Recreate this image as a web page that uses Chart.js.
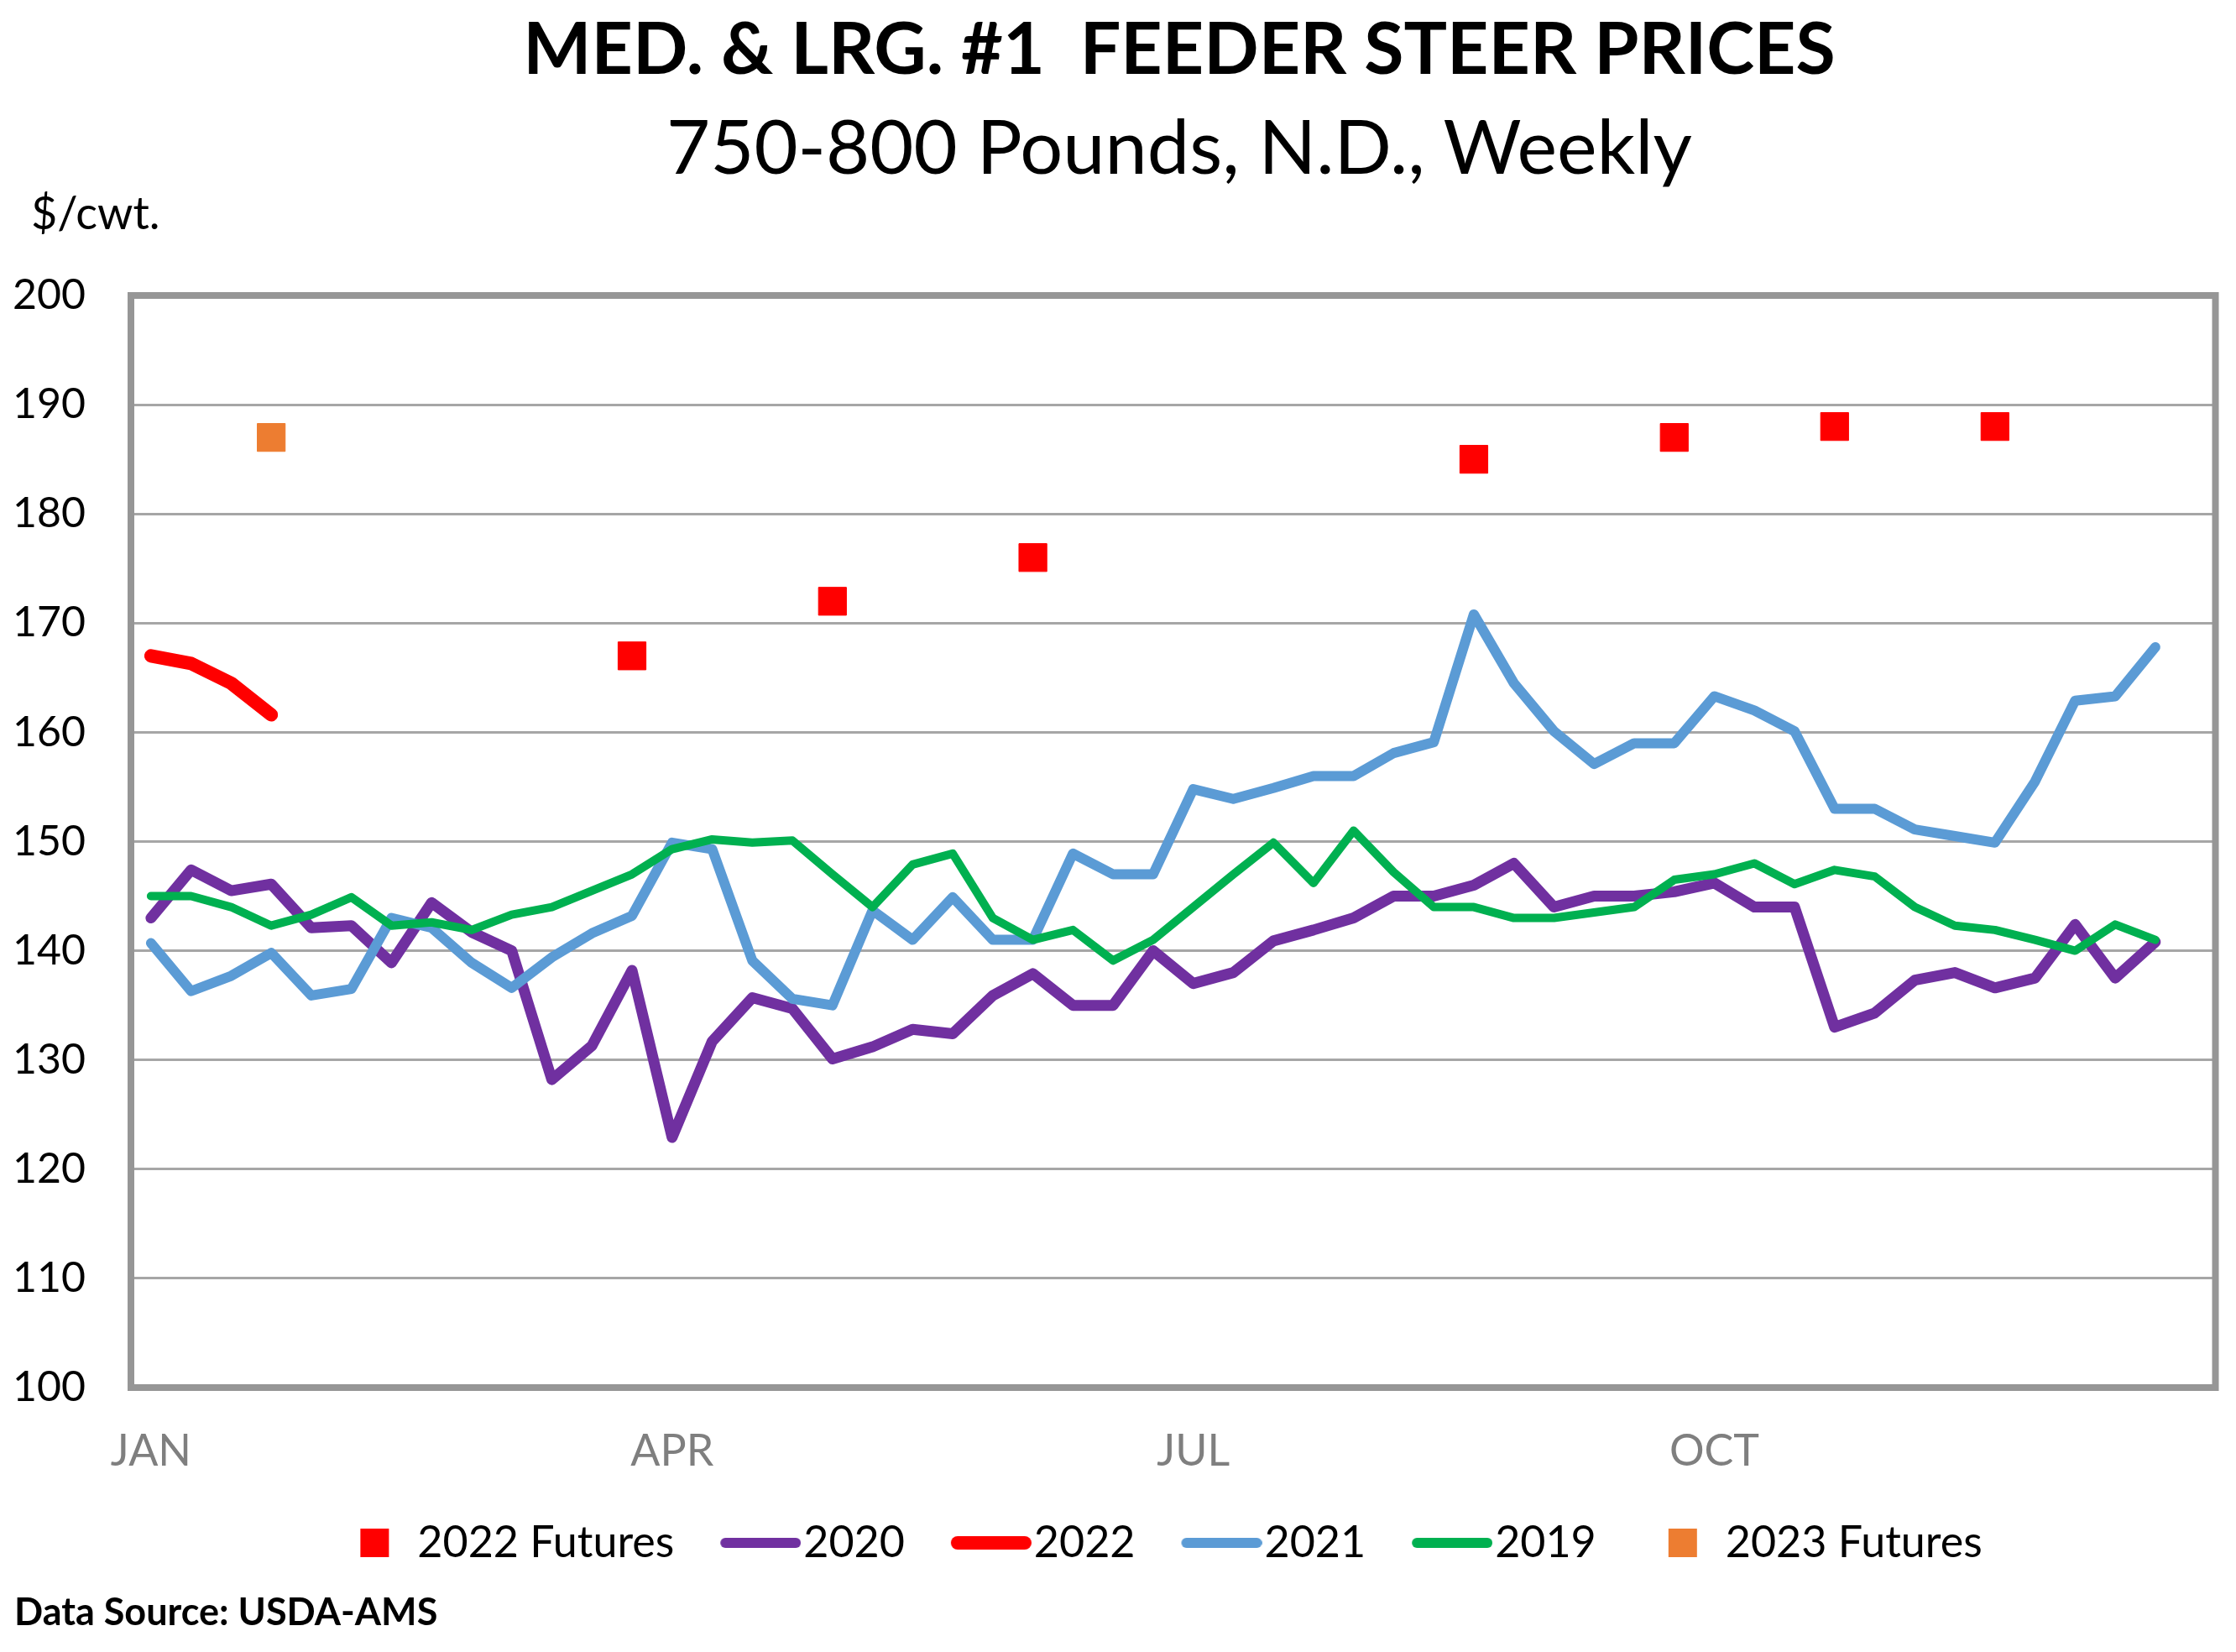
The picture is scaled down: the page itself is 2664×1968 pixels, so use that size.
<!DOCTYPE html>
<html><head><meta charset="utf-8">
<script src="https://cdn.jsdelivr.net/npm/chart.js@4.4.1/dist/chart.umd.min.js"></script>
<style>
html,body{margin:0;padding:0;background:#fff;overflow:hidden;}
#wrap{position:relative;width:2664px;height:1968px;background:#fff;}
canvas{position:absolute;left:0;top:0;}
.txt{position:absolute;font-family:Lato,"Open Sans",sans-serif;color:#000;white-space:pre;line-height:1;}
</style></head><body>
<div id="wrap">
<canvas id="c" width="2664" height="1968" style="width:2664px;height:1968px"></canvas>
<div class="txt" style="left:405px;width:2000px;text-align:center;top:12px;font-size:86px;font-weight:700;">MED. &amp; LRG. #1  FEEDER STEER PRICES</div>
<div class="txt" style="left:405px;width:2000px;text-align:center;top:127px;font-size:90px;">750-800 Pounds, N.D., Weekly</div>
<div class="txt" style="left:37px;top:226px;font-size:54px;">$/cwt.</div>
<div class="txt" style="left:17px;top:1897px;font-size:45px;font-weight:700;">Data Source: USDA-AMS</div>
</div>
<script>
// ---- data ----
const weeks = [1,2,3,4,5,6,7,8,9,10,11,12,13,14,15,16,17,18,19,20,21,22,23,24,25,26,
               27,28,29,30,31,32,33,34,35,36,37,38,39,40,41,42,43,44,45,46,47,48,49,50,51,52];
const monthTickLabels = ['JAN','APR','JUL','OCT'];
const monthTickWeeks = [1,14,27,40];
const yTickValues = [100,110,120,130,140,150,160,170,180,190,200];

const prices2020 = [143.0,147.4,145.5,146.1,142.1,142.3,138.9,144.4,141.7,140.0,128.2,131.3,138.2,122.9,131.7,135.7,134.7,130.1,131.2,132.8,132.4,
                    135.9,137.9,135.0,135.0,140.0,137.0,138.0,140.9,141.9,143.0,145.0,145.0,146.0,148.0,144.0,145.0,145.0,145.4,146.2,144.0,
                    144.0,133.0,134.3,137.3,138.0,136.6,137.5,142.4,137.5,140.8];
const prices2022 = [167.0,166.3,164.5,161.6];
const prices2021 = [140.7,136.3,137.7,139.8,135.9,136.5,143.0,142.1,138.9,136.6,139.4,141.6,143.2,149.9,149.3,139.1,135.6,135.0,143.7,141.0,144.9,
                    141.0,141.0,148.9,147.0,147.0,154.8,153.9,154.9,156.0,156.0,158.1,159.1,170.8,164.5,160.1,157.1,159.0,159.0,163.3,162.0,
                    160.1,153.0,153.0,151.1,150.5,149.9,155.5,162.9,163.3,167.8];
const prices2019 = [145.0,145.0,144.0,142.3,143.3,144.9,142.3,142.6,141.9,143.3,144.0,145.5,147.0,149.3,150.2,149.9,150.1,147.0,144.0,147.9,148.9,
                    143.0,141.0,141.9,139.1,141.0,144.0,147.0,149.9,146.2,151.0,147.2,144.0,144.0,143.0,143.0,143.5,144.0,146.5,147.0,148.0,
                    146.1,147.4,146.8,144.0,142.3,141.9,141.0,140.0,142.4,141.0];
const futures2022Weeks = [13,18,23,34,39,43,47];
const futures2022Values = [167,172,176,185,187,188,188];
const futures2023Weeks = [4];
const futures2023Values = [187];

// ---- colours ----
const C_PURPLE = '#7030A0', C_RED = '#FF0000', C_BLUE = '#5B9BD5', C_GREEN = '#00B050', C_ORANGE = '#ED7D31';

function pts(ws, vs){ return ws.map((w,i)=>({x:w, y:vs[i]})); }

function lineDs(label, data, color, width, order){
  return {label, data, borderColor:color, backgroundColor:color, borderWidth:width,
          pointRadius:0, pointHoverRadius:0, tension:0, fill:false,
          borderCapStyle:'round', borderJoinStyle:'round', order};
}
function futDs(label, data, color, order){
  return {label, data, showLine:false, pointStyle:'rect', pointRadius:23.5, pointHoverRadius:23.5,
          pointBackgroundColor:color, pointBorderColor:color, pointBorderWidth:1,
          borderColor:color, backgroundColor:color, order};
}

// legend glyphs
function lineGlyph(color, w){
  const c = document.createElement('canvas'); c.width = 146; c.height = 20;
  const g = c.getContext('2d'); g.strokeStyle = color; g.lineWidth = w; g.lineCap = 'round';
  g.beginPath(); g.moveTo(50 + w/2, 10); g.lineTo(146 - w/2, 10); g.stroke(); return c;
}
function squareGlyph(color){
  const c = document.createElement('canvas'); c.width = 146; c.height = 34;
  const g = c.getContext('2d'); g.fillStyle = color; g.fillRect(81, 0, 34, 34); return c;
}
const glyphs = [squareGlyph(C_RED), lineGlyph(C_PURPLE, 12), lineGlyph(C_RED, 16), lineGlyph(C_BLUE, 12), lineGlyph(C_GREEN, 12), squareGlyph(C_ORANGE)];

const framePlugin = {
  id:'frame',
  afterLayout(chart){
    // centre the legend row on the same point as the reference
    if (chart.legend){ chart.legend.left += 38; chart.legend.right += 38; }
  },
  beforeDatasetsDraw(chart){
    const {ctx, chartArea:a} = chart;
    ctx.save(); ctx.strokeStyle = '#969696'; ctx.lineWidth = 8;
    ctx.strokeRect(a.left, a.top, a.right - a.left, a.bottom - a.top); ctx.restore();
  }
};

Chart.defaults.font.family = 'Lato, "Open Sans", sans-serif';

new Chart(document.getElementById('c'), {
  type:'line',
  data:{
    labels: weeks,
    datasets:[
      futDs('2022 Futures', pts(futures2022Weeks, futures2022Values), C_RED, 0),
      lineDs('2020', prices2020, C_PURPLE, 13, 5),
      lineDs('2022', prices2022, C_RED, 16, 4),
      lineDs('2021', prices2021, C_BLUE, 12, 3),
      lineDs('2019', prices2019, C_GREEN, 10, 2),
      futDs('2023 Futures', pts(futures2023Weeks, futures2023Values), C_ORANGE, 1)
    ]
  },
  options:{
    responsive:false, animation:false, events:[], devicePixelRatio:1,
    layout:{padding:{top:352, left:10, right:17, bottom:94}},
    plugins:{
      tooltip:{enabled:false},
      title:{display:false},
      legend:{
        position:'bottom',
        labels:{
          usePointStyle:true, pointStyleWidth:100, padding:28, color:'#000',
          font:{size:52},
          sort:(a,b)=>a.datasetIndex - b.datasetIndex,
          generateLabels(chart){
            const items = Chart.defaults.plugins.legend.labels.generateLabels(chart);
            items.forEach(it => { it.pointStyle = glyphs[it.datasetIndex]; });
            return items;
          }
        }
      }
    },
    scales:{
      x:{
        type:'category', offset:true,
        grid:{display:false, drawTicks:false},
        border:{display:false},
        ticks:{
          autoSkip:false, maxRotation:0, minRotation:0, padding:45,
          color:'#7f7f7f', font:{size:52},
          callback(value, index){
            const k = monthTickWeeks.indexOf(weeks[index]);
            return k >= 0 ? monthTickLabels[k] : '';
          }
        },
        afterFit(scale){ scale.height = 131; }
      },
      y:{
        min:yTickValues[0], max:yTickValues[yTickValues.length-1],
        grid:{color:'#a6a6a6', lineWidth:3, drawTicks:false},
        border:{display:false},
        ticks:{stepSize:10, padding:54, color:'#000', font:{size:50}},
        afterBuildTicks(scale){ scale.ticks = yTickValues.map(v=>({value:v})); },
        afterFit(scale){ scale.width = 146; }
      }
    }
  },
  plugins:[framePlugin]
});
</script>
</body></html>
